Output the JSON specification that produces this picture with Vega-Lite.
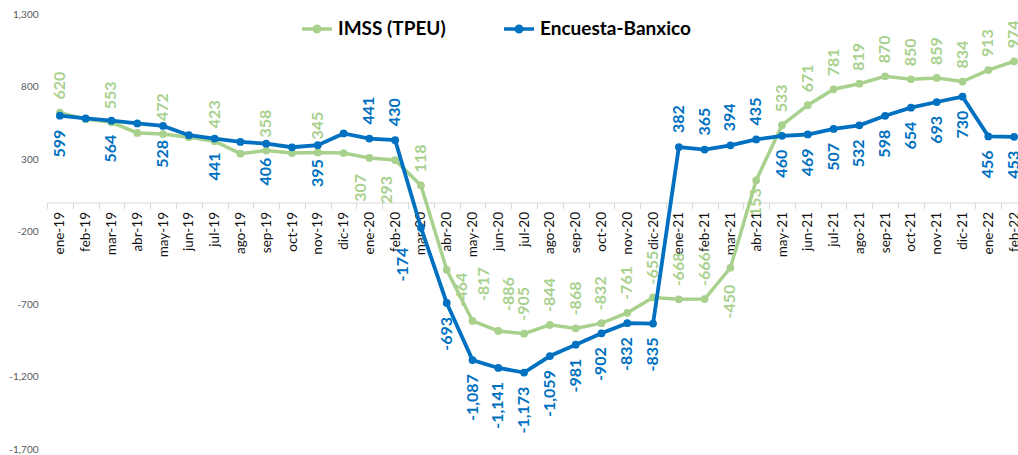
{
  "$schema": "https://vega.github.io/schema/vega-lite/v6.json",
  "width": 971,
  "height": 435,
  "autosize": {"type": "none"},
  "padding": {"left": 47, "top": 14, "right": 0, "bottom": 6},
  "background": "white",
  "config": {
    "view": {"stroke": null},
    "font": "Lato",
    "locale": {"number": {"decimal": ".", "thousands": ",", "grouping": [3], "currency": ["$", ""], "minus": "-"}}
  },
  "data": {"values": [
    {"month": "ene-19", "series": "IMSS (TPEU)", "value": 620},
    {"month": "feb-19", "series": "IMSS (TPEU)", "value": 575},
    {"month": "mar-19", "series": "IMSS (TPEU)", "value": 553},
    {"month": "abr-19", "series": "IMSS (TPEU)", "value": 480},
    {"month": "may-19", "series": "IMSS (TPEU)", "value": 472},
    {"month": "jun-19", "series": "IMSS (TPEU)", "value": 450},
    {"month": "jul-19", "series": "IMSS (TPEU)", "value": 423},
    {"month": "ago-19", "series": "IMSS (TPEU)", "value": 337},
    {"month": "sep-19", "series": "IMSS (TPEU)", "value": 358},
    {"month": "oct-19", "series": "IMSS (TPEU)", "value": 341},
    {"month": "nov-19", "series": "IMSS (TPEU)", "value": 345},
    {"month": "dic-19", "series": "IMSS (TPEU)", "value": 341},
    {"month": "ene-20", "series": "IMSS (TPEU)", "value": 307},
    {"month": "feb-20", "series": "IMSS (TPEU)", "value": 293},
    {"month": "mar-20", "series": "IMSS (TPEU)", "value": 118},
    {"month": "abr-20", "series": "IMSS (TPEU)", "value": -464},
    {"month": "may-20", "series": "IMSS (TPEU)", "value": -817},
    {"month": "jun-20", "series": "IMSS (TPEU)", "value": -886},
    {"month": "jul-20", "series": "IMSS (TPEU)", "value": -905},
    {"month": "ago-20", "series": "IMSS (TPEU)", "value": -844},
    {"month": "sep-20", "series": "IMSS (TPEU)", "value": -868},
    {"month": "oct-20", "series": "IMSS (TPEU)", "value": -832},
    {"month": "nov-20", "series": "IMSS (TPEU)", "value": -761},
    {"month": "dic-20", "series": "IMSS (TPEU)", "value": -655},
    {"month": "ene-21", "series": "IMSS (TPEU)", "value": -668},
    {"month": "feb-21", "series": "IMSS (TPEU)", "value": -666},
    {"month": "mar-21", "series": "IMSS (TPEU)", "value": -450},
    {"month": "abr-21", "series": "IMSS (TPEU)", "value": 153},
    {"month": "may-21", "series": "IMSS (TPEU)", "value": 533},
    {"month": "jun-21", "series": "IMSS (TPEU)", "value": 671},
    {"month": "jul-21", "series": "IMSS (TPEU)", "value": 781},
    {"month": "ago-21", "series": "IMSS (TPEU)", "value": 819},
    {"month": "sep-21", "series": "IMSS (TPEU)", "value": 870},
    {"month": "oct-21", "series": "IMSS (TPEU)", "value": 850},
    {"month": "nov-21", "series": "IMSS (TPEU)", "value": 859},
    {"month": "dic-21", "series": "IMSS (TPEU)", "value": 834},
    {"month": "ene-22", "series": "IMSS (TPEU)", "value": 913},
    {"month": "feb-22", "series": "IMSS (TPEU)", "value": 974},
    {"month": "ene-19", "series": "Encuesta-Banxico", "value": 599},
    {"month": "feb-19", "series": "Encuesta-Banxico", "value": 580},
    {"month": "mar-19", "series": "Encuesta-Banxico", "value": 564},
    {"month": "abr-19", "series": "Encuesta-Banxico", "value": 545},
    {"month": "may-19", "series": "Encuesta-Banxico", "value": 528},
    {"month": "jun-19", "series": "Encuesta-Banxico", "value": 464},
    {"month": "jul-19", "series": "Encuesta-Banxico", "value": 441},
    {"month": "ago-19", "series": "Encuesta-Banxico", "value": 418},
    {"month": "sep-19", "series": "Encuesta-Banxico", "value": 406},
    {"month": "oct-19", "series": "Encuesta-Banxico", "value": 381},
    {"month": "nov-19", "series": "Encuesta-Banxico", "value": 395},
    {"month": "dic-19", "series": "Encuesta-Banxico", "value": 476},
    {"month": "ene-20", "series": "Encuesta-Banxico", "value": 441},
    {"month": "feb-20", "series": "Encuesta-Banxico", "value": 430},
    {"month": "mar-20", "series": "Encuesta-Banxico", "value": -174},
    {"month": "abr-20", "series": "Encuesta-Banxico", "value": -693},
    {"month": "may-20", "series": "Encuesta-Banxico", "value": -1087},
    {"month": "jun-20", "series": "Encuesta-Banxico", "value": -1141},
    {"month": "jul-20", "series": "Encuesta-Banxico", "value": -1173},
    {"month": "ago-20", "series": "Encuesta-Banxico", "value": -1059},
    {"month": "sep-20", "series": "Encuesta-Banxico", "value": -981},
    {"month": "oct-20", "series": "Encuesta-Banxico", "value": -902},
    {"month": "nov-20", "series": "Encuesta-Banxico", "value": -832},
    {"month": "dic-20", "series": "Encuesta-Banxico", "value": -835},
    {"month": "ene-21", "series": "Encuesta-Banxico", "value": 382},
    {"month": "feb-21", "series": "Encuesta-Banxico", "value": 365},
    {"month": "mar-21", "series": "Encuesta-Banxico", "value": 394},
    {"month": "abr-21", "series": "Encuesta-Banxico", "value": 435},
    {"month": "may-21", "series": "Encuesta-Banxico", "value": 460},
    {"month": "jun-21", "series": "Encuesta-Banxico", "value": 469},
    {"month": "jul-21", "series": "Encuesta-Banxico", "value": 507},
    {"month": "ago-21", "series": "Encuesta-Banxico", "value": 532},
    {"month": "sep-21", "series": "Encuesta-Banxico", "value": 598},
    {"month": "oct-21", "series": "Encuesta-Banxico", "value": 654},
    {"month": "nov-21", "series": "Encuesta-Banxico", "value": 693},
    {"month": "dic-21", "series": "Encuesta-Banxico", "value": 730},
    {"month": "ene-22", "series": "Encuesta-Banxico", "value": 456},
    {"month": "feb-22", "series": "Encuesta-Banxico", "value": 453}
  ]},
  "encoding": {
    "x": {
      "field": "month", "type": "ordinal",
      "scale": {
        "type": "band",
        "domain": ["ene-19","feb-19","mar-19","abr-19","may-19","jun-19","jul-19","ago-19","sep-19","oct-19","nov-19","dic-19","ene-20","feb-20","mar-20","abr-20","may-20","jun-20","jul-20","ago-20","sep-20","oct-20","nov-20","dic-20","ene-21","feb-21","mar-21","abr-21","may-21","jun-21","jul-21","ago-21","sep-21","oct-21","nov-21","dic-21","ene-22","feb-22"],
        "range": [0, 980],
        "paddingInner": 0,
        "paddingOuter": 0
      },
      "axis": {
        "title": null,
        "offset": -246.5,
        "labelAngle": -90,
        "tickBand": "extent",
        "domainColor": "#D9D9D9",
        "tickColor": "#D9D9D9",
        "tickSize": 6,
        "labelPadding": 3,
        "labelFont": "Lato",
        "labelFontSize": 13.5,
        "labelColor": "#111111",
        "grid": false,
        "labelOverlap": false,
        "zindex": 0
      }
    },
    "y": {
      "field": "value", "type": "quantitative",
      "scale": {"domain": [-1700, 1300], "nice": false, "zero": false},
      "axis": {
        "title": null,
        "values": [1300, 800, 300, -200, -700, -1200, -1700],
        "format": ",.0f",
        "domain": false,
        "ticks": false,
        "grid": false,
        "labelFont": "Lato",
        "labelFontSize": 10,
        "labelColor": "#595959",
        "labelPadding": 9
      }
    }
  },
  "layer": [
    {
      "transform": [{"filter": "datum.series == 'IMSS (TPEU)'"}],
      "mark": {"type": "line", "strokeWidth": 3.5, "point": {"filled": true, "size": 60}},
      "encoding": {
        "color": {
          "field": "series", "type": "nominal",
          "scale": {"domain": ["IMSS (TPEU)", "Encuesta-Banxico"], "range": ["#A9D18E", "#0070C0"]},
          "legend": {
            "title": null,
            "orient": "none",
            "direction": "horizontal",
            "legendX": 253,
            "legendY": -2,
            "padding": 0,
            "symbolType": "M-1,0H1M-0.18,0A0.18,0.18 0 1,0 0.18,0A0.18,0.18 0 1,0 -0.18,0M-0.07,0A0.07,0.07 0 1,0 0.07,0A0.07,0.07 0 1,0 -0.07,0",
            "symbolSize": 900,
            "symbolStrokeWidth": 3.5,
            "labelFont": "Lato",
            "labelFontWeight": "bold",
            "labelFontSize": 19,
            "labelColor": "#000000",
            "labelOffset": 4,
            "columnPadding": 51,
            "labelLimit": 400
          }
        }
      }
    },
    {
      "transform": [{"filter": "datum.series == 'Encuesta-Banxico'"}],
      "mark": {"type": "line", "strokeWidth": 3.8, "point": {"filled": true, "size": 60}},
      "encoding": {
        "color": {"field": "series", "type": "nominal"}
      }
    },
    {
      "transform": [
        {"filter": "datum.series == 'IMSS (TPEU)'"},
        {"filter": {"field": "month", "oneOf": ["ene-19","mar-19","may-19","jul-19","sep-19","nov-19","mar-20","jul-20","ago-20","sep-20","oct-20","nov-20","dic-20","ene-21","feb-21","may-21","jun-21","jul-21","ago-21","sep-21","oct-21","nov-21","dic-21","ene-22","feb-22"]}}
      ],
      "mark": {"type": "text", "angle": 270, "align": "left", "baseline": "middle", "dx": 13, "font": "Lato", "fontWeight": "bold", "fontSize": 16, "color": "#A9D18E"},
      "encoding": {"text": {"field": "value", "type": "quantitative", "format": ",.0f"}}
    },
    {
      "transform": [
        {"filter": "datum.series == 'IMSS (TPEU)'"},
        {"filter": {"field": "month", "oneOf": ["may-20","jun-20"]}}
      ],
      "mark": {"type": "text", "angle": 270, "align": "left", "baseline": "middle", "dx": 20, "dy": 11, "font": "Lato", "fontWeight": "bold", "fontSize": 16, "color": "#A9D18E"},
      "encoding": {"text": {"field": "value", "type": "quantitative", "format": ",.0f"}}
    },
    {
      "transform": [
        {"filter": "datum.series == 'IMSS (TPEU)'"},
        {"filter": {"field": "month", "oneOf": ["ene-20","feb-20"]}}
      ],
      "mark": {"type": "text", "angle": 270, "align": "right", "baseline": "middle", "dx": -16, "dy": -8, "font": "Lato", "fontWeight": "bold", "fontSize": 16, "color": "#A9D18E"},
      "encoding": {"text": {"field": "value", "type": "quantitative", "format": ",.0f"}}
    },
    {
      "transform": [
        {"filter": "datum.series == 'IMSS (TPEU)'"},
        {"filter": {"field": "month", "oneOf": ["mar-21"]}}
      ],
      "mark": {"type": "text", "angle": 270, "align": "right", "baseline": "middle", "dx": -17, "font": "Lato", "fontWeight": "bold", "fontSize": 16, "color": "#A9D18E"},
      "encoding": {"text": {"field": "value", "type": "quantitative", "format": ",.0f"}}
    },
    {
      "transform": [
        {"filter": "datum.series == 'IMSS (TPEU)'"},
        {"filter": {"field": "month", "oneOf": ["abr-21"]}}
      ],
      "mark": {"type": "text", "angle": 270, "align": "right", "baseline": "middle", "dx": -8, "font": "Lato", "fontWeight": "bold", "fontSize": 16, "color": "#A9D18E"},
      "encoding": {"text": {"field": "value", "type": "quantitative", "format": ",.0f"}}
    },
    {
      "transform": [
        {"filter": "datum.series == 'IMSS (TPEU)'"},
        {"filter": {"field": "month", "oneOf": ["abr-20"]}}
      ],
      "mark": {"type": "text", "angle": 270, "align": "right", "baseline": "middle", "dx": -3, "dy": 15, "font": "Lato", "fontWeight": "bold", "fontSize": 16, "color": "#A9D18E"},
      "encoding": {"text": {"field": "value", "type": "quantitative", "format": ",.0f"}}
    },
    {
      "transform": [
        {"filter": "datum.series == 'Encuesta-Banxico'"},
        {"filter": {"field": "month", "oneOf": ["ene-20","feb-20","ene-21","feb-21","mar-21","abr-21"]}}
      ],
      "mark": {"type": "text", "angle": 270, "align": "left", "baseline": "middle", "dx": 14, "font": "Lato", "fontWeight": "bold", "fontSize": 16, "color": "#0070C0"},
      "encoding": {"text": {"field": "value", "type": "quantitative", "format": ",.0f"}}
    },
    {
      "transform": [
        {"filter": "datum.series == 'Encuesta-Banxico'"},
        {"filter": {"field": "month", "oneOf": ["mar-20"]}}
      ],
      "mark": {"type": "text", "angle": 270, "align": "right", "baseline": "middle", "dx": -20, "dy": -18, "font": "Lato", "fontWeight": "bold", "fontSize": 16, "color": "#0070C0"},
      "encoding": {"text": {"field": "value", "type": "quantitative", "format": ",.0f"}}
    },
    {
      "transform": [
        {"filter": "datum.series == 'Encuesta-Banxico'"},
        {"filter": {"field": "month", "oneOf": ["ene-19","mar-19","may-19","jul-19","sep-19","nov-19","abr-20","may-20","jun-20","jul-20","ago-20","sep-20","oct-20","nov-20","dic-20","may-21","jun-21","jul-21","ago-21","sep-21","oct-21","nov-21","dic-21","ene-22","feb-22"]}}
      ],
      "mark": {"type": "text", "angle": 270, "align": "right", "baseline": "middle", "dx": -14, "font": "Lato", "fontWeight": "bold", "fontSize": 16, "color": "#0070C0"},
      "encoding": {"text": {"field": "value", "type": "quantitative", "format": ",.0f"}}
    }
  ]
}
